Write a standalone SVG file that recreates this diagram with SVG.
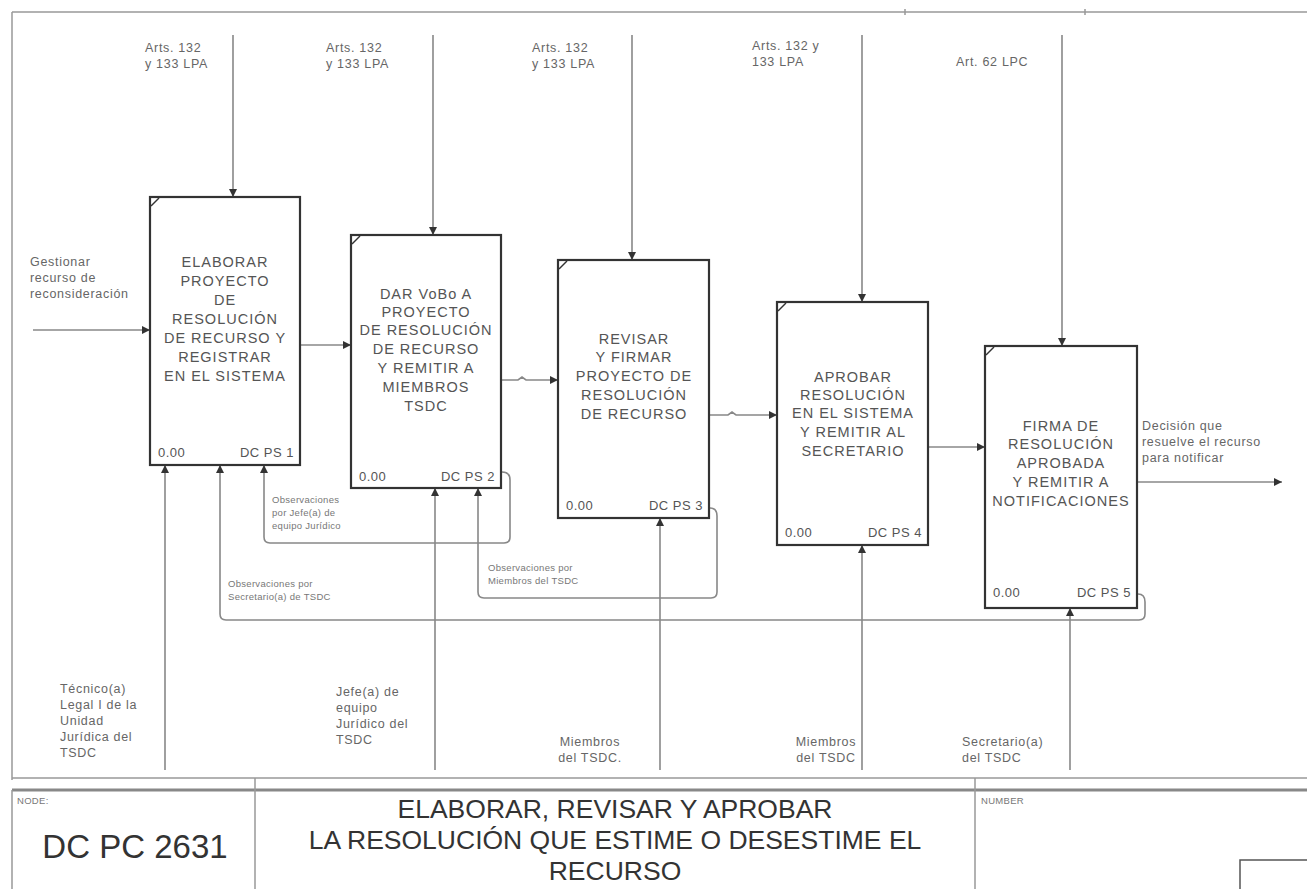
<svg xmlns="http://www.w3.org/2000/svg" width="1307" height="889" viewBox="0 0 1307 889">
<style>
.frame{fill:none;stroke:#999;stroke-width:1.5}
.box{fill:#fff;stroke:#333;stroke-width:2.2}
.tick{stroke:#333;stroke-width:1.5}
.bt{font-family:"Liberation Sans",Arial,sans-serif;font-size:14.5px;fill:#555;text-anchor:middle;letter-spacing:1px}
.num{font-family:"Liberation Sans",Arial,sans-serif;font-size:13px;fill:#555;letter-spacing:0.5px}
.lbl{font-family:"Liberation Sans",Arial,sans-serif;font-size:12.5px;fill:#666;letter-spacing:0.7px}
.sm{font-family:"Liberation Sans",Arial,sans-serif;font-size:9.5px;fill:#777;letter-spacing:0.3px}
.ar{fill:none;stroke:#888;stroke-width:1.6;marker-end:url(#ah)}
.tt{font-family:"Liberation Sans",Arial,sans-serif;font-size:26.5px;fill:#333;text-anchor:middle}
</style>
<defs>
<marker id="ah" viewBox="0 0 10 10" refX="10" refY="5" markerWidth="8" markerHeight="8" markerUnits="userSpaceOnUse" orient="auto">
<path d="M0,0 L10,5 L0,10 z" fill="#333"/>
</marker>
</defs>
<rect width="1307" height="889" fill="#fff"/>
<g id="frame">
<path class="frame" d="M12,12 H1307 M12,12 V780 M12,778 H1307 M905,9 V15 M1085,9 V15"/>
<path d="M12,790 H1307" stroke="#888" stroke-width="3"/>
<path class="frame" d="M12,790 V889 M255,778 V889 M975,778 V889"/>
<path d="M1240,889 V860 H1307" fill="none" stroke="#555" stroke-width="1.5"/>
<text x="17" y="804" class="sm">NODE:</text>
<text x="135" y="858" style="font-family:'Liberation Sans',Arial,sans-serif;font-size:33px;fill:#333;text-anchor:middle">DC PC 2631</text>
<text x="615" y="818" class="tt">ELABORAR, REVISAR Y APROBAR</text>
<text x="615" y="849" class="tt">LA RESOLUCIÓN QUE ESTIME O DESESTIME EL</text>
<text x="615" y="880" class="tt">RECURSO</text>
<text x="981" y="804" class="sm">NUMBER</text>
</g>
<g id="connectors">
<path class="ar" d="M233,35 V197"/>
<path class="ar" d="M433,35 V235"/>
<path class="ar" d="M632,35 V260"/>
<path class="ar" d="M862,35 V302"/>
<path class="ar" d="M1062,35 V346"/>
<path class="ar" d="M33,330 H150"/>
<path class="ar" d="M300,345 H351"/>
<path class="ar" d="M501,380 H518 l4,-3 l4,3 H558"/>
<path class="ar" d="M709,415 H728 l4,-3 l4,3 H777"/>
<path class="ar" d="M928,447 H985"/>
<path class="ar" d="M1137,482 H1282"/>
<path class="ar" d="M165,770 V465"/>
<path class="ar" d="M435,770 V488"/>
<path class="ar" d="M660,770 V518"/>
<path class="ar" d="M862,770 V545"/>
<path class="ar" d="M1070,770 V608"/>
<path class="ar" d="M502,472 q8,0 8,8 V537 q0,6 -6,6 H270 q-6,0 -6,-6 V465"/>
<path class="ar" d="M710,508 q7,0 7,8 V592 q0,6 -6,6 H484 q-6,0 -6,-6 V488"/>
<path class="ar" d="M1138,594 q7,0 7,8 V614 q0,6 -6,6 H226 q-6,0 -6,-6 V465"/>
</g>
<g id="labels">
<text class="lbl" x="145" y="52">Arts. 132</text>
<text class="lbl" x="145" y="68">y 133 LPA</text>
<text class="lbl" x="326" y="52">Arts. 132</text>
<text class="lbl" x="326" y="68">y 133 LPA</text>
<text class="lbl" x="532" y="52">Arts. 132</text>
<text class="lbl" x="532" y="68">y 133 LPA</text>
<text class="lbl" x="752" y="50">Arts. 132 y</text>
<text class="lbl" x="752" y="66">133 LPA</text>
<text class="lbl" x="956" y="66">Art. 62 LPC</text>
<text class="lbl" x="30" y="266">Gestionar</text>
<text class="lbl" x="30" y="282">recurso de</text>
<text class="lbl" x="30" y="298">reconsideración</text>
<text class="lbl" x="1142" y="430">Decisión que</text>
<text class="lbl" x="1142" y="446">resuelve el recurso</text>
<text class="lbl" x="1142" y="462">para notificar</text>
<text class="sm" x="272" y="503">Observaciones</text>
<text class="sm" x="272" y="516">por Jefe(a) de</text>
<text class="sm" x="272" y="529">equipo Jurídico</text>
<text class="sm" x="488" y="571">Observaciones por</text>
<text class="sm" x="488" y="584">Miembros del TSDC</text>
<text class="sm" x="228" y="587">Observaciones por</text>
<text class="sm" x="228" y="600">Secretario(a) de TSDC</text>
<text class="lbl" x="60" y="693">Técnico(a)</text>
<text class="lbl" x="60" y="709">Legal I de la</text>
<text class="lbl" x="60" y="725">Unidad</text>
<text class="lbl" x="60" y="741">Jurídica del</text>
<text class="lbl" x="60" y="757">TSDC</text>
<text class="lbl" x="336" y="696">Jefe(a) de</text>
<text class="lbl" x="336" y="712">equipo</text>
<text class="lbl" x="336" y="728">Jurídico del</text>
<text class="lbl" x="336" y="744">TSDC</text>
<text class="lbl" x="590" y="746" text-anchor="middle">Miembros</text>
<text class="lbl" x="590" y="762" text-anchor="middle">del TSDC.</text>
<text class="lbl" x="826" y="746" text-anchor="middle">Miembros</text>
<text class="lbl" x="826" y="762" text-anchor="middle">del TSDC</text>
<text class="lbl" x="962" y="746">Secretario(a)</text>
<text class="lbl" x="962" y="762">del TSDC</text>
</g>
<g id="node1">
<rect class="box" x="150" y="197" width="150" height="268"/>
<path class="tick" d="M151,206 L159,198"/>
<text class="bt" x="225" y="267">ELABORAR</text>
<text class="bt" x="225" y="286">PROYECTO</text>
<text class="bt" x="225" y="305">DE</text>
<text class="bt" x="225" y="324">RESOLUCIÓN</text>
<text class="bt" x="225" y="343">DE RECURSO Y</text>
<text class="bt" x="225" y="362">REGISTRAR</text>
<text class="bt" x="225" y="381">EN EL SISTEMA</text>
<text class="num" x="158" y="457">0.00</text>
<text class="num" x="294" y="457" text-anchor="end">DC PS 1</text>
</g>
<g id="node2">
<rect class="box" x="351" y="235" width="150" height="253"/>
<path class="tick" d="M352,244 L360,236"/>
<text class="bt" x="426" y="299">DAR VoBo A</text>
<text class="bt" x="426" y="317">PROYECTO</text>
<text class="bt" x="426" y="335">DE RESOLUCIÓN</text>
<text class="bt" x="426" y="354">DE RECURSO</text>
<text class="bt" x="426" y="373">Y REMITIR A</text>
<text class="bt" x="426" y="392">MIEMBROS</text>
<text class="bt" x="426" y="411">TSDC</text>
<text class="num" x="359" y="481">0.00</text>
<text class="num" x="495" y="481" text-anchor="end">DC PS 2</text>
</g>
<g id="node3">
<rect class="box" x="558" y="260" width="151" height="258"/>
<path class="tick" d="M559,269 L567,261"/>
<text class="bt" x="634" y="344">REVISAR</text>
<text class="bt" x="634" y="362">Y FIRMAR</text>
<text class="bt" x="634" y="381">PROYECTO DE</text>
<text class="bt" x="634" y="400">RESOLUCIÓN</text>
<text class="bt" x="634" y="419">DE RECURSO</text>
<text class="num" x="566" y="510">0.00</text>
<text class="num" x="703" y="510" text-anchor="end">DC PS 3</text>
</g>
<g id="node4">
<rect class="box" x="777" y="302" width="151" height="243"/>
<path class="tick" d="M778,311 L786,303"/>
<text class="bt" x="853" y="382">APROBAR</text>
<text class="bt" x="853" y="400">RESOLUCIÓN</text>
<text class="bt" x="853" y="418">EN EL SISTEMA</text>
<text class="bt" x="853" y="437">Y REMITIR AL</text>
<text class="bt" x="853" y="456">SECRETARIO</text>
<text class="num" x="785" y="537">0.00</text>
<text class="num" x="922" y="537" text-anchor="end">DC PS 4</text>
</g>
<g id="node5">
<rect class="box" x="985" y="346" width="152" height="262"/>
<path class="tick" d="M986,355 L994,347"/>
<text class="bt" x="1061" y="431">FIRMA DE</text>
<text class="bt" x="1061" y="449">RESOLUCIÓN</text>
<text class="bt" x="1061" y="468">APROBADA</text>
<text class="bt" x="1061" y="487">Y REMITIR A</text>
<text class="bt" x="1061" y="506">NOTIFICACIONES</text>
<text class="num" x="993" y="597">0.00</text>
<text class="num" x="1131" y="597" text-anchor="end">DC PS 5</text>
</g>
</svg>
